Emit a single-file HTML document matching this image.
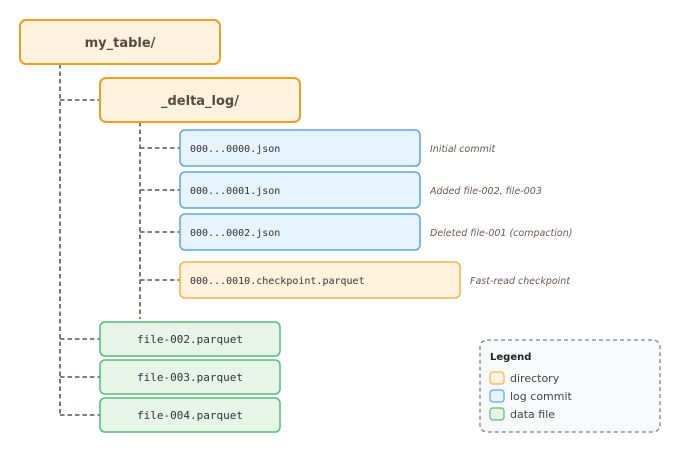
<!DOCTYPE html>
<html><head><meta charset="utf-8"><style>
html,body{margin:0;padding:0;background:#fff;}
svg{display:block;}
.s{font-family:"DejaVu Sans","Liberation Sans",sans-serif;}
.m{font-family:"DejaVu Sans Mono","Liberation Mono",monospace;font-size:10px;fill:#333;}
.f{font-family:"DejaVu Sans Mono","Liberation Mono",monospace;font-size:11px;fill:#333;}
.a{font-family:"DejaVu Sans","Liberation Sans",sans-serif;font-size:9.5px;font-style:italic;fill:#6b5a4e;}
</style></head><body>
<svg width="680" height="460" viewBox="0 0 680 460" xmlns="http://www.w3.org/2000/svg">
<g stroke="#7a6a5e" stroke-width="1.8" stroke-dasharray="4.5,3" fill="none">
<path d="M60 64V415"/>
<path d="M60 100H100"/>
<path d="M60 339H100M60 377H100M60 415H100"/>
<path d="M140 122V319"/>
<path d="M140 148H180M140 190H180M140 232H180M140 280H180"/>
</g>
<rect x="20" y="20" width="200" height="44" rx="6" fill="#fff2de" stroke="#f0a020" stroke-width="2"/>
<text x="120" y="47" class="s" font-size="13" font-weight="bold" fill="#5a4a3e" text-anchor="middle">my_table/</text>
<rect x="100" y="78" width="200" height="44" rx="6" fill="#fff2de" stroke="#f0a020" stroke-width="2"/>
<text x="200" y="105" class="s" font-size="13" font-weight="bold" fill="#5a4a3e" text-anchor="middle">_delta_log/</text>
<g fill="#e6f2fc" stroke="#5aa8e0" stroke-width="1.5">
<rect x="180" y="130" width="240" height="36" rx="5"/>
<rect x="180" y="172" width="240" height="36" rx="5"/>
<rect x="180" y="214" width="240" height="36" rx="5"/>
</g>
<text x="190" y="152" class="m">000...0000.json</text>
<text x="190" y="194" class="m">000...0001.json</text>
<text x="190" y="236" class="m">000...0002.json</text>
<text x="430" y="152" class="a">Initial commit</text>
<text x="430" y="194" class="a">Added file-002, file-003</text>
<text x="430" y="236" class="a">Deleted file-001 (compaction)</text>
<rect x="180" y="262" width="280" height="36" rx="5" fill="#fff3de" stroke="#f5b445" stroke-width="1.5"/>
<text x="190" y="284" class="m">000...0010.checkpoint.parquet</text>
<text x="470" y="284" class="a">Fast-read checkpoint</text>
<g fill="#e6f5e8" stroke="#55bb7a" stroke-width="1.5">
<rect x="100" y="322" width="180" height="34" rx="5"/>
<rect x="100" y="360" width="180" height="34" rx="5"/>
<rect x="100" y="398" width="180" height="34" rx="5"/>
</g>
<text x="190" y="343" class="f" text-anchor="middle">file-002.parquet</text>
<text x="190" y="381" class="f" text-anchor="middle">file-003.parquet</text>
<text x="190" y="419" class="f" text-anchor="middle">file-004.parquet</text>
<rect x="480" y="340" width="180" height="92" rx="7" fill="#f8f9fb" stroke="#808088" stroke-width="1.3" stroke-dasharray="4,3"/>
<text x="490" y="360" class="s" font-size="10" font-weight="bold" fill="#222">Legend</text>
<rect x="490" y="372" width="14" height="12" rx="3" fill="#fff2de" stroke="#f5b445" stroke-width="1.2"/>
<text x="510" y="382" class="s" font-size="11" fill="#444">directory</text>
<rect x="490" y="390" width="14" height="12" rx="3" fill="#e6f2fc" stroke="#5aa8e0" stroke-width="1.2"/>
<text x="510" y="400" class="s" font-size="11" fill="#444">log commit</text>
<rect x="490" y="408" width="14" height="12" rx="3" fill="#e6f5e8" stroke="#55bb7a" stroke-width="1.2"/>
<text x="510" y="418" class="s" font-size="11" fill="#444">data file</text>
</svg>
</body></html>
